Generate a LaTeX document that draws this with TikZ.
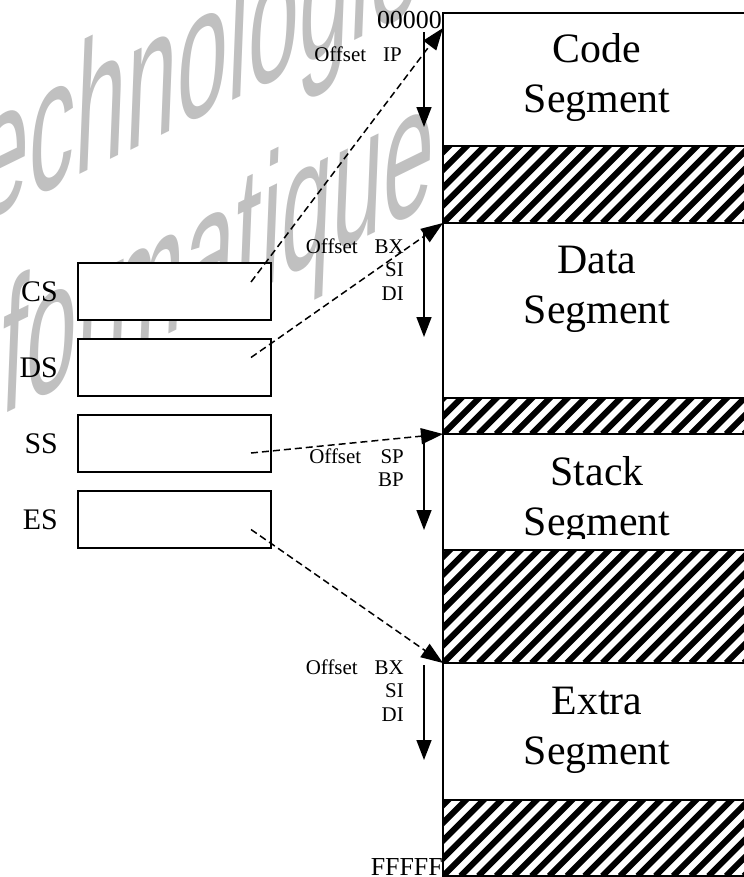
\documentclass[tikz,border=0pt]{standalone}
\usepackage{fontspec}
\setmainfont{Liberation Serif}
\newfontfamily\wmfont{Liberation Sans}
\usetikzlibrary{positioning,calc,arrows.meta}
\definecolor{wmgray}{RGB}{192,192,192}
\tikzset{
  seg/.style={draw,fill=white,line width=1.5bp,inner sep=0pt,outer sep=0pt,minimum width=303bp},
  hatch/.style={seg,path picture={
      \foreach \k in {-8,...,18}
        \draw[line width=6bp] ($(path picture bounding box.south west)+(\k*17.7bp,0)$) -- ++(130bp,130bp);}},
  segtxt/.style={font=\fontsize{42}{50}\selectfont,align=center,inner sep=0pt},
  reg/.style={draw,fill=white,line width=1.5bp,minimum width=193bp,minimum height=57bp,inner sep=0pt,outer sep=0pt},
  reglbl/.style={font=\fontsize{30}{36}\selectfont,inner sep=0pt},
  offs/.style={font=\fontsize{21}{24}\selectfont,inner sep=0pt,anchor=base east},
  addr/.style={font=\fontsize{26}{30}\selectfont,inner sep=0pt,anchor=base east},
  wm/.style={font=\wmfont\fontsize{92}{92}\selectfont,text=wmgray,inner sep=0pt,anchor=base west,
      yslant=0.49,yscale=2.0,xslant=0.08,transform shape},
  ptr/.style={line width=1.5bp,dash pattern=on 7bp off 4bp,-{Triangle[length=22bp,width=16bp]}},
  walk/.style={line width=1.5bp,-{Triangle[length=20bp,width=15bp]}}
}
\begin{document}
\begin{tikzpicture}[x=1bp,y=-1bp]
\useasboundingbox (0,0) rectangle (744,877);

% watermark
\begin{scope}[shift={(-49,238)}]
\node[wm] (wmtop) at (0,0) {technologie};
\end{scope}
\begin{scope}[shift={(-72,452)}]
\node[wm] (wmbot) at (0,0) {informatique};
\end{scope}

% memory
\node[seg,minimum height=133bp] (code) at (594.5,79.5) {};
\node[hatch,minimum height=77bp,below=0bp of code] (gap1) {};
\node[seg,minimum height=175bp,below=0bp of gap1] (data) {};
\node[hatch,minimum height=36bp,below=0bp of data] (gap2) {};
\node[seg,minimum height=116bp,below=0bp of gap2] (stack) {};
\node[hatch,minimum height=113bp,below=0bp of stack] (gap3) {};
\node[seg,minimum height=137bp,below=0bp of gap3] (extra) {};
\node[hatch,minimum height=76bp,below=0bp of extra] (gap4) {};

\node[segtxt] (codetxt) at (597,77.3) {Code\\Segment};
\node[segtxt] (datatxt) at (597,289.3) {Data\\Segment};
\begin{scope}
\clip (443,434) rectangle (746,538);
\node[segtxt] (stacktxt) at (597,500.3) {Stack\\Segment};
\end{scope}
\node[segtxt] (extratxt) at (597,730.3) {Extra\\Segment};

\node[addr] (top) at (442,28) {00000};
\node[addr] (bot) at (443,875) {FFFFF};

% segment registers
\node[reg] (cs) at (174.5,291.5) {};
\node[reg,below=19bp of cs] (ds) {};
\node[reg,below=19bp of ds] (ss) {};
\node[reg,below=19bp of ss] (es) {};
\node[reglbl,left=20bp of cs] (cslbl) {CS};
\node[reglbl,left=20bp of ds] (dslbl) {DS};
\node[reglbl,left=20bp of ss] (sslbl) {SS};
\node[reglbl,left=20bp of es] (eslbl) {ES};

% offsets
\node[offs] (ipoff) at (402,61) {\begin{tabular}[t]{@{}l@{\hspace{17bp}}r@{}}Offset & IP\end{tabular}};
\node[offs] (dsoff) at (404,253) {\begin{tabular}[t]{@{}l@{\hspace{17bp}}r@{}}Offset & BX\\ & SI\\ & DI\end{tabular}};
\node[offs] (ssoff) at (404,463) {\begin{tabular}[t]{@{}l@{\hspace{17bp}}r@{}}Offset & SP\\ & BP\end{tabular}};
\node[offs] (esoff) at (404,674) {\begin{tabular}[t]{@{}l@{\hspace{17bp}}r@{}}Offset & BX\\ & SI\\ & DI\end{tabular}};

\coordinate (ip1) at (424,32);  \coordinate (ip2) at (424,127);
\coordinate (dd1) at (424,232); \coordinate (dd2) at (424,337);
\coordinate (sp1) at (424,443); \coordinate (sp2) at (424,530);
\coordinate (ee1) at (424,665); \coordinate (ee2) at (424,760);
\draw[walk] (ip1) -- (ip2);
\draw[walk] (dd1) -- (dd2);
\draw[walk] (sp1) -- (sp2);
\draw[walk] (ee1) -- (ee2);

% pointers
\coordinate (csp) at ($(cs.center)+(76.5,-9.5)$);
\coordinate (dsp) at ($(ds.center)+(76.5,-10)$);
\coordinate (ssp) at ($(ss.center)+(76.5,9.5)$);
\coordinate (esp) at ($(es.center)+(76.5,10)$);
\coordinate (codetop) at ($(code.north west)+(0,15)$);
\draw[ptr] (csp) -- (codetop);
\draw[ptr] (dsp) -- (data.north west);
\draw[ptr] (ssp) -- (stack.north west);
\draw[ptr] (esp) -- (extra.north west);
\end{tikzpicture}
\end{document}
